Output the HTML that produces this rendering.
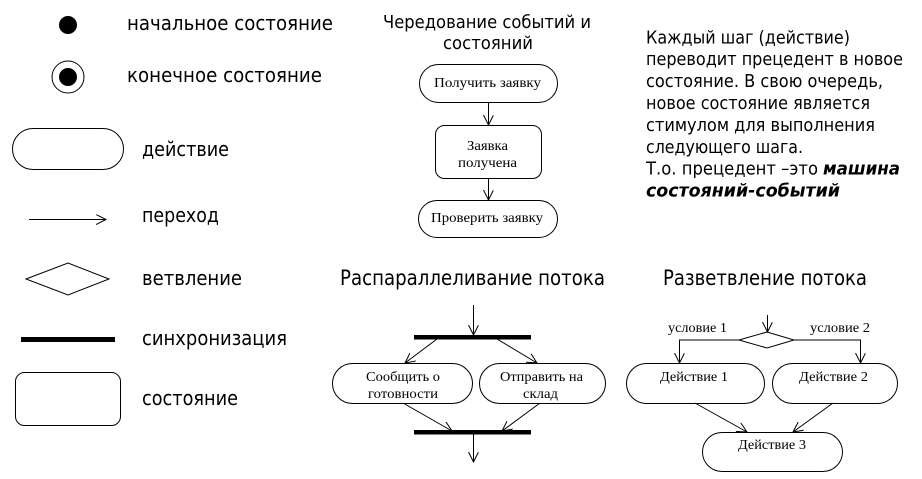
<!DOCTYPE html>
<html>
<head>
<meta charset="utf-8">
<style>
html,body{margin:0;padding:0;background:#fff;}
svg{display:block;}
.s{font-family:"DejaVu Sans","Liberation Sans",sans-serif;fill:#000;}
.t{font-family:"Liberation Serif","DejaVu Serif",serif;fill:#000;font-size:14px;}
</style>
</head>
<body>
<svg width="922" height="479" viewBox="0 0 922 479" xmlns="http://www.w3.org/2000/svg">
<defs>
<marker id="a" markerWidth="12" markerHeight="12" refX="10" refY="5" orient="auto" markerUnits="userSpaceOnUse">
<path d="M0,0 L10,5 L0,10" fill="none" stroke="#000" stroke-width="1"/>
</marker>
</defs>
<rect width="922" height="479" fill="#fff"/>

<!-- Legend -->
<circle cx="68" cy="25" r="9" fill="#000"/>
<text class="s" x="127" y="30" font-size="20.5" textLength="206" lengthAdjust="spacingAndGlyphs">начальное  состояние</text>

<circle cx="68" cy="77" r="16" fill="none" stroke="#000" stroke-width="1"/>
<circle cx="68" cy="77" r="9" fill="#000"/>
<text class="s" x="127" y="82" font-size="20.5" textLength="195" lengthAdjust="spacingAndGlyphs">конечное  состояние</text>

<rect x="12.5" y="128.5" width="111" height="41" rx="20.5" fill="none" stroke="#000"/>
<text class="s" x="142" y="156" font-size="20.5" textLength="87" lengthAdjust="spacingAndGlyphs">действие</text>

<line x1="29" y1="219.5" x2="106" y2="219.5" stroke="#000" marker-end="url(#a)"/>
<text class="s" x="142" y="222" font-size="20.5" textLength="77" lengthAdjust="spacingAndGlyphs">переход</text>

<polygon points="26,279 68,263 109,279 68,295" fill="none" stroke="#000"/>
<text class="s" x="142" y="285" font-size="20.5" textLength="100" lengthAdjust="spacingAndGlyphs">ветвление</text>

<rect x="21" y="337" width="94" height="5" fill="#000"/>
<text class="s" x="142" y="345" font-size="20.5" textLength="145" lengthAdjust="spacingAndGlyphs">синхронизация</text>

<rect x="15.5" y="372.5" width="105" height="53" rx="9" fill="none" stroke="#000"/>
<text class="s" x="142" y="405" font-size="20.5" textLength="96" lengthAdjust="spacingAndGlyphs">состояние</text>

<!-- Middle top -->
<text class="s" x="383" y="28" font-size="18" textLength="208" lengthAdjust="spacingAndGlyphs">Чередование событий и</text>
<text class="s" x="443" y="49" font-size="18" textLength="90" lengthAdjust="spacingAndGlyphs">состояний</text>

<rect x="419.5" y="64.5" width="138" height="38" rx="19" fill="none" stroke="#000"/>
<text class="t" x="434" y="87" textLength="107" lengthAdjust="spacingAndGlyphs">Получить заявку</text>
<line x1="488.5" y1="102" x2="488.5" y2="125" stroke="#000" marker-end="url(#a)"/>

<rect x="435.5" y="125.5" width="106" height="53" rx="9" fill="none" stroke="#000"/>
<text class="t" x="467" y="150" textLength="41" lengthAdjust="spacingAndGlyphs">Заявка</text>
<text class="t" x="458" y="167" textLength="59" lengthAdjust="spacingAndGlyphs">получена</text>
<line x1="488.5" y1="178" x2="488.5" y2="200" stroke="#000" marker-end="url(#a)"/>

<rect x="418.5" y="200.5" width="139" height="37" rx="18.5" fill="none" stroke="#000"/>
<text class="t" x="431" y="222" textLength="112" lengthAdjust="spacingAndGlyphs">Проверить заявку</text>

<!-- Right text -->
<g class="s" font-size="18">
<text x="646" y="43.3" textLength="204" lengthAdjust="spacingAndGlyphs">Каждый шаг (действие)</text>
<text x="646" y="65.2" textLength="257" lengthAdjust="spacingAndGlyphs">переводит прецедент в новое</text>
<text x="646" y="87.1" textLength="237" lengthAdjust="spacingAndGlyphs">состояние. В свою очередь,</text>
<text x="646" y="109" textLength="224" lengthAdjust="spacingAndGlyphs">новое состояние является</text>
<text x="646" y="130.9" textLength="229" lengthAdjust="spacingAndGlyphs">стимулом для выполнения</text>
<text x="646" y="152.8" textLength="157" lengthAdjust="spacingAndGlyphs">следующего шага.</text>
<text x="646" y="174.7" textLength="172" lengthAdjust="spacingAndGlyphs">Т.о. прецедент –это</text>
<text x="823" y="174.7" font-weight="bold" font-style="italic" textLength="77" lengthAdjust="spacingAndGlyphs">машина</text>
<text x="646" y="196.6" font-weight="bold" font-style="italic" textLength="194" lengthAdjust="spacingAndGlyphs">состояний-событий</text>
</g>

<!-- Parallel flow -->
<text class="s" x="340" y="285" font-size="21" textLength="265" lengthAdjust="spacingAndGlyphs">Распараллеливание потока</text>
<line x1="473.5" y1="305" x2="473.5" y2="335" stroke="#000" marker-end="url(#a)"/>
<rect x="414" y="335" width="117" height="4.5" fill="#000"/>
<line x1="437" y1="339" x2="405" y2="363" stroke="#000" marker-end="url(#a)"/>
<line x1="497" y1="339" x2="537" y2="363" stroke="#000" marker-end="url(#a)"/>

<rect x="332.5" y="363.5" width="140" height="40" rx="20" fill="none" stroke="#000"/>
<text class="t" x="366" y="381" textLength="74" lengthAdjust="spacingAndGlyphs">Сообщить о</text>
<text class="t" x="368" y="398" textLength="70" lengthAdjust="spacingAndGlyphs">готовности</text>

<rect x="479.5" y="363.5" width="126" height="40" rx="20" fill="none" stroke="#000"/>
<text class="t" x="500" y="381" textLength="83" lengthAdjust="spacingAndGlyphs">Отправить на</text>
<text class="t" x="523" y="398" textLength="35" lengthAdjust="spacingAndGlyphs">склад</text>

<line x1="403" y1="403" x2="452" y2="431" stroke="#000" marker-end="url(#a)"/>
<line x1="540" y1="403" x2="502" y2="431" stroke="#000" marker-end="url(#a)"/>
<rect x="414" y="430" width="117" height="4.5" fill="#000"/>
<line x1="473.5" y1="434" x2="473.5" y2="462" stroke="#000" marker-end="url(#a)"/>

<!-- Branch flow -->
<text class="s" x="663" y="285" font-size="21" textLength="204" lengthAdjust="spacingAndGlyphs">Разветвление потока</text>
<line x1="767.5" y1="315" x2="767.5" y2="332" stroke="#000" marker-end="url(#a)"/>
<polygon points="739,340 767,332 794,340 767,348" fill="none" stroke="#000"/>
<polyline points="739,340 679.5,340 679.5,363" fill="none" stroke="#000" marker-end="url(#a)"/>
<polyline points="794,340 860.5,340 860.5,363" fill="none" stroke="#000" marker-end="url(#a)"/>
<text class="t" x="668" y="332" textLength="59" lengthAdjust="spacingAndGlyphs">условие 1</text>
<text class="t" x="810" y="332" textLength="60" lengthAdjust="spacingAndGlyphs">условие 2</text>

<rect x="626.5" y="363.5" width="138" height="40" rx="20" fill="none" stroke="#000"/>
<text class="t" x="660" y="381" textLength="68" lengthAdjust="spacingAndGlyphs">Действие 1</text>
<rect x="772.5" y="363.5" width="125" height="40" rx="20" fill="none" stroke="#000"/>
<text class="t" x="799" y="381" textLength="69" lengthAdjust="spacingAndGlyphs">Действие 2</text>

<line x1="695" y1="403" x2="747" y2="432" stroke="#000" marker-end="url(#a)"/>
<line x1="833" y1="403" x2="793" y2="432" stroke="#000" marker-end="url(#a)"/>

<rect x="702.5" y="432.5" width="140" height="39" rx="19.5" fill="none" stroke="#000"/>
<text class="t" x="738" y="449" textLength="68" lengthAdjust="spacingAndGlyphs">Действие 3</text>
</svg>
</body>
</html>
